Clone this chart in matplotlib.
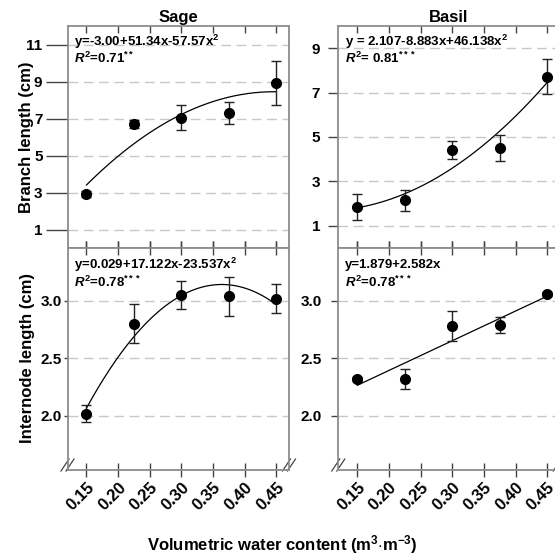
import numpy as np
import matplotlib.pyplot as plt

plt.rcParams['font.family'] = ['Liberation Sans', 'DejaVu Sans']
plt.rcParams['font.weight'] = 'bold'
plt.rcParams['mathtext.fontset'] = 'custom'
plt.rcParams['mathtext.rm'] = 'Liberation Sans:bold'
plt.rcParams['mathtext.bf'] = 'Liberation Sans:bold'
plt.rcParams['mathtext.it'] = 'Liberation Sans:italic:bold'

# water content levels (m3 m-3)
water = [0.15, 0.225, 0.30, 0.375, 0.45]

# branch length (cm)
sage_branch = [2.93, 6.70, 7.05, 7.30, 8.93]
sage_branch_err = [0.15, 0.20, 0.68, 0.60, 1.20]
basil_branch = [1.84, 2.14, 4.40, 4.51, 7.72]
basil_branch_err = [0.58, 0.48, 0.40, 0.60, 0.80]

# internode length (cm)
sage_intern = [2.02, 2.80, 3.05, 3.04, 3.02]
sage_intern_err = [0.075, 0.17, 0.12, 0.17, 0.125]
basil_intern = [2.32, 2.32, 2.78, 2.79, 3.06]
basil_intern_err = [0.02, 0.09, 0.13, 0.07, 0.02]

# fitted regressions (coefficients c0 + c1 x + c2 x^2)
fit_coefs = {
    'sage_branch': (-3.00, 51.34, -57.57),
    'basil_branch': (2.107, -8.883, 46.138),
    'sage_intern': (0.029, 17.122, -23.537),
    'basil_intern': (1.879, 2.582, 0.0),
}
eq_text = {
    'sage_branch': ('y=-3.00+51.34x-57.57x$^2$', r'$\mathit{R}^2$=0.71$^{**}$'),
    'basil_branch': ('y = 2.107-8.883x+46.138x$^2$', r'$\mathit{R}^2$= 0.81$^{***}$'),
    'sage_intern': ('y=0.029+17.122x-23.537x$^2$', r'$\mathit{R}^2$=0.78$^{***}$'),
    'basil_intern': ('y=1.879+2.582x', r'$\mathit{R}^2$=0.78$^{***}$'),
}

xticks = [0.15, 0.20, 0.25, 0.30, 0.35, 0.40, 0.45]
xticklabels = ['0.15', '0.20', '0.25', '0.30', '0.35', '0.40', '0.45']

SPINE = '#8c8c8c'
TICK = '#444444'
GRID = '#c8c8c8'

fig = plt.figure(figsize=(5.55, 5.57), dpi=100)
W, H = 221.5 / 555, 222 / 557
xl, xr = 67.5 / 555, 338.3 / 555
yt, yb = (557 - 248) / 557, (557 - 470) / 557

ax_sb = fig.add_axes([xl, yt, W, H])
ax_bb = fig.add_axes([xr, yt, W, H])
ax_si = fig.add_axes([xl, yb, W, H])
ax_bi = fig.add_axes([xr, yb, W, H])


def draw(ax, key, y, yerr, ylim, yticks, ytl, ylen, ypad, top):
    ax.set_xlim(0.12, 0.47)
    ax.set_ylim(*ylim)
    ax.set_yticks(yticks)
    ax.set_yticklabels(ytl, fontsize=11, fontweight='bold')
    for yy in yticks:
        ax.axhline(yy, color=GRID, lw=1.0, ls=(0, (7, 4)), zorder=0)
    c0, c1, c2 = fit_coefs[key]
    xs = np.linspace(0.15, 0.45, 200)
    ax.plot(xs, c0 + c1 * xs + c2 * xs ** 2, color='black', lw=0.9, zorder=2)
    ax.errorbar(water, y, yerr=yerr, fmt='o', color='black', ms=7,
                ecolor='#222222', elinewidth=1.0, capsize=3.8, capthick=1.0,
                zorder=3, clip_on=False)
    for s in ax.spines.values():
        s.set_color(SPINE)
        s.set_linewidth(1.3)
    ax.tick_params(axis='y', direction='out', length=ylen, pad=ypad,
                   color=TICK, width=1.0, right=False)
    ax.set_xticks(xticks)
    if top:
        ax.tick_params(axis='x', direction='in', length=5, top=True,
                       bottom=True, color=TICK, width=1.0, labelbottom=False)
    else:
        ax.tick_params(axis='x', direction='inout', length=10, top=True,
                       bottom=True, color=TICK, width=1.0, pad=2)
        ax.set_xticklabels(xticklabels, fontsize=12, fontweight='bold')
        for lab in ax.get_xticklabels():
            lab.set_rotation(45)
            lab.set_ha('right')
            lab.set_va('top')
            lab.set_rotation_mode('anchor')
        # axis break marks
        dx, dy = 1 / 221.5, 1 / 222
        for cx in (0, 1):
            for d in (-2.5, 2.5):
                ax.plot([cx + (d - 4) * dx, cx + (d + 4) * dx],
                        [5 * dy - 6 * dy, 5 * dy + 6 * dy],
                        transform=ax.transAxes, color=TICK, lw=0.9,
                        clip_on=False)
    l1, l2 = eq_text[key]
    ax.text(0.03, 0.93 if top else 0.925, l1, transform=ax.transAxes,
            fontsize=9.5, fontweight='bold', va='center', ha='left')
    ax.text(0.03, 0.855 if top else 0.845, l2, transform=ax.transAxes,
            fontsize=9.5, fontweight='bold', va='center', ha='left')


draw(ax_sb, 'sage_branch', sage_branch, sage_branch_err, (0, 12),
     [1, 3, 5, 7, 9, 11], ['1', '3', '5', '7', '9', '11'], 16, 2, True)
draw(ax_bb, 'basil_branch', basil_branch, basil_branch_err, (0, 10),
     [1, 3, 5, 7, 9], ['1', '3', '5', '7', '9'], 7, 6, True)
draw(ax_si, 'sage_intern', sage_intern, sage_intern_err, (1.53, 3.46),
     [2.0, 2.5, 3.0], ['2.0', '2.5', '3.0'], 3, 1, False)
draw(ax_bi, 'basil_intern', basil_intern, basil_intern_err, (1.53, 3.46),
     [2.0, 2.5, 3.0], ['2.0', '2.5', '3.0'], 5, 7, False)

ax_sb.set_title('Sage', fontsize=12, fontweight='bold', pad=3)
ax_bb.set_title('Basil', fontsize=12, fontweight='bold', pad=3)

fig.text(27 / 555, 1 - 137 / 557, 'Branch length (cm)', rotation=90,
         fontsize=12, fontweight='bold', ha='center', va='center')
fig.text(28 / 555, 1 - 358 / 557, 'Internode length (cm)', rotation=90,
         fontsize=12, fontweight='bold', ha='center', va='center')
fig.text(282 / 555, 1 - 545 / 557,
         r'Volumetric water content (m$^{3}$$\cdot$m$^{-3}$)',
         fontsize=12, fontweight='bold', ha='center', va='center')

fig.savefig('out.png', dpi=100)
